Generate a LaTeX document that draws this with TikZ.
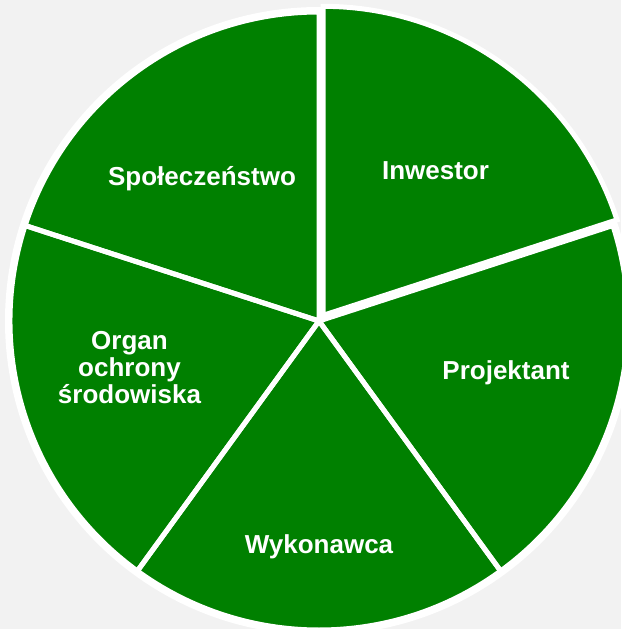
\documentclass[tikz,border=0pt]{standalone}
\usepackage{fontspec}
\setmainfont{Liberation Sans}
\usetikzlibrary{calc}
\begin{document}
\begin{tikzpicture}[x=1pt,y=1pt,
  slicefill/.style={fill=piegreen},
  slicestroke/.style={draw=white,line width=5pt,line join=miter},
  lbl/.style={text=white,font=\bfseries\fontsize{26}{27}\selectfont,inner sep=0pt,align=center}]
\definecolor{piegreen}{RGB}{0,128,0}
\definecolor{bggray}{RGB}{242,242,242}
\fill[bggray] (0,-629) rectangle (621,0);
\useasboundingbox (0,-629) rectangle (621,0);
\def\R{309}
\coordinate (C) at (319,-321);
\coordinate (CI) at ($(C)+(54:7)$);
\fill[white] (C) circle (\R+5);
% fills
\fill[slicefill] (CI) -- ++(18:\R) arc (18:90:\R) -- cycle;
\fill[slicefill] (C) -- ++(-54:\R) arc (-54:18:\R) -- cycle;
\fill[slicefill] (C) -- ++(-126:\R) arc (-126:-54:\R) -- cycle;
\fill[slicefill] (C) -- ++(162:\R) arc (162:234:\R) -- cycle;
\fill[slicefill] (C) -- ++(90:\R) arc (90:162:\R) -- cycle;
% strokes
\draw[slicestroke] (CI) -- ++(18:\R) arc (18:90:\R) -- cycle;
\draw[slicestroke] (C) -- ++(-54:\R) arc (-54:18:\R) -- cycle;
\draw[slicestroke] (C) -- ++(-126:\R) arc (-126:-54:\R) -- cycle;
\draw[slicestroke] (C) -- ++(162:\R) arc (162:234:\R) -- cycle;
\draw[slicestroke] (C) -- ++(90:\R) arc (90:162:\R) -- cycle;
% labels
\node[lbl,anchor=base] (inw) at (435.5,-179) {Inwestor};
\node[lbl,anchor=base] (spo) at (202,-185) {Społeczeństwo};
\node[lbl,anchor=base] (pro) at (506,-379) {Projektant};
\node[lbl,anchor=base] (wyk) at (319,-553) {Wykonawca};
\node[lbl,anchor=north] (org) at (129.5,-331.5) {Organ\\ochrony\\środowiska};
\end{tikzpicture}
\end{document}
